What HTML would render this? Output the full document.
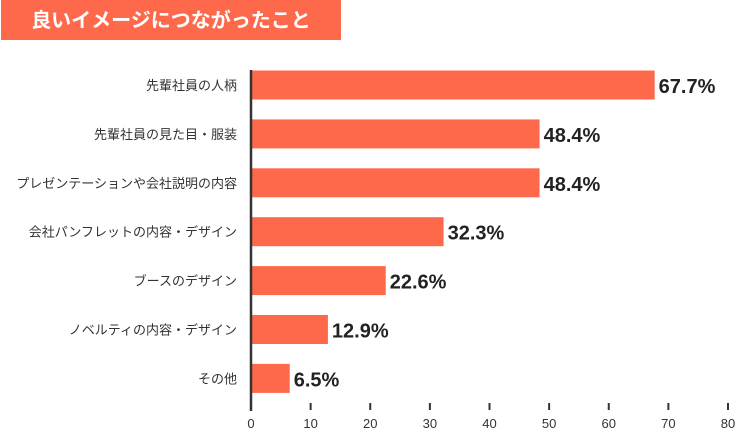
<!DOCTYPE html>
<html><head><meta charset="utf-8"><style>
body{margin:0;background:#fff;width:739px;height:431px;overflow:hidden;font-family:"Liberation Sans","Noto Sans CJK JP",sans-serif}
</style></head><body>
<svg width="739" height="431" xmlns="http://www.w3.org/2000/svg">
<rect x="1" y="0" width="340" height="40" fill="#ff694b"/>
<text x="171" y="27" text-anchor="middle" fill="#fff" font-size="20" font-weight="bold" font-family="Liberation Sans, Noto Sans CJK JP, sans-serif">良いイメージにつながったこと</text>
<g id="plot"></g>
</svg>
<script>
const categories=["先輩社員の人柄","先輩社員の見た目・服装","プレゼンテーションや会社説明の内容","会社パンフレットの内容・デザイン","ブースのデザイン","ノベルティの内容・デザイン","その他"];
const values=[67.7,48.4,48.4,32.3,22.6,12.9,6.5];
const ticks=[0,10,20,30,40,50,60,70,80];
const g=document.getElementById('plot');
const NS="http://www.w3.org/2000/svg";
const x=v=>251+v*(728-251)/80;
const y=i=>85+i*48.9;
function mk(t,a){const e=document.createElementNS(NS,t);for(const k in a)e.setAttribute(k,a[k]);g.appendChild(e);return e;}
categories.forEach((c,i)=>{
 const b=mk('rect',{x:x(0),y:y(i)-14.5,width:x(values[i])-x(0),height:29,fill:'#ff694b'});
 
 
 const l=mk('text',{x:237,y:y(i)+5,'text-anchor':'end','font-size':13,fill:'#333'});
 l.textContent=c;
 
 
 const v=mk('text',{x:x(values[i])+4,y:y(i)+8,'font-size':20,'font-weight':'bold',fill:'#222'});
 v.textContent=values[i].toFixed(1)+'%';
 
 
});
ticks.forEach(t=>{
 const tk=mk('line',{x1:x(t),x2:x(t),y1:403,y2:410,stroke:'#333','stroke-width':2});
 
 
 const tl=mk('text',{x:x(t),y:428,'text-anchor':'middle','font-size':13,fill:'#333'});
 tl.textContent=t;
 
 
});
const ax=mk('line',{x1:251,x2:251,y1:70,y2:411,stroke:'#333','stroke-width':2.5});


</script>
</body></html>
